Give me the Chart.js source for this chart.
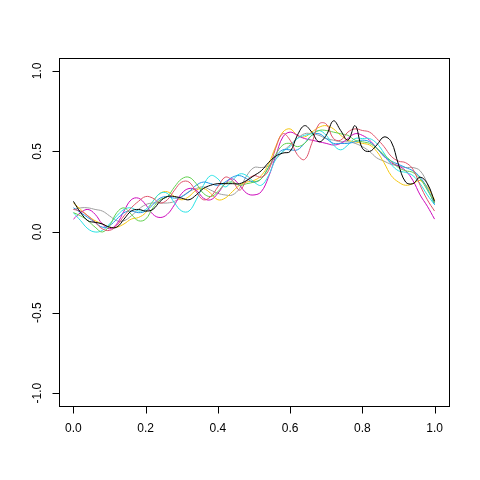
<!DOCTYPE html>
<html>
<head>
<meta charset="utf-8">
<script src="https://cdn.jsdelivr.net/npm/chart.js@4"></script>
<style>
  html, body { margin: 0; padding: 0; background: #fff; }
  canvas { display: block; }
</style>
</head>
<body>
<canvas id="myChart" width="480" height="480"></canvas>
<script>
// x grid: 0, 0.02, ... 1
const xs = [0.00,0.02,0.04,0.06,0.08,0.10,0.12,0.14,0.16,0.18,0.20,0.22,0.24,0.26,0.28,0.30,0.32,0.34,0.36,0.38,0.40,
            0.42,0.44,0.46,0.48,0.50,0.52,0.54,0.56,0.58,0.60,0.62,0.64,0.66,0.68,0.70,0.72,0.74,0.76,0.78,0.80,
            0.82,0.84,0.86,0.88,0.90,0.92,0.94,0.96,0.98,1.00];

const xTicks = [0, 0.2, 0.4, 0.6, 0.8, 1.0];
const xTickLabels = ['0.0', '0.2', '0.4', '0.6', '0.8', '1.0'];
const yTicks = [-1, -0.5, 0, 0.5, 1];
const yTickLabels = ['-1.0', '-0.5', '0.0', '0.5', '1.0'];

const curveBlack = [0.19,0.12,0.07,0.06,0.05,0.03,0.03,0.08,0.13,0.14,0.13,0.14,0.19,0.22,0.22,0.21,0.20,0.23,0.27,0.29,0.30,
                    0.30,0.30,0.30,0.32,0.35,0.38,0.43,0.47,0.49,0.50,0.60,0.66,0.62,0.56,0.60,0.69,0.63,0.57,0.66,0.52,
                    0.50,0.54,0.59,0.56,0.42,0.31,0.30,0.34,0.30,0.19];
const curvePink = [0.14,0.13,0.10,0.06,0.02,0.01,0.04,0.10,0.15,0.19,0.22,0.21,0.18,0.20,0.26,0.31,0.31,0.25,0.20,0.22,0.28,
                   0.34,0.32,0.26,0.32,0.35,0.34,0.38,0.52,0.61,0.57,0.48,0.45,0.55,0.67,0.67,0.58,0.57,0.62,0.64,0.63,
                   0.62,0.58,0.53,0.47,0.44,0.43,0.39,0.29,0.20,0.13];
const curveGreen = [0.12,0.10,0.07,0.03,0.00,0.04,0.12,0.15,0.11,0.07,0.08,0.15,0.20,0.22,0.28,0.33,0.34,0.30,0.24,0.22,0.25,
                    0.30,0.31,0.29,0.30,0.31,0.33,0.40,0.48,0.54,0.55,0.53,0.55,0.60,0.63,0.63,0.62,0.61,0.60,0.57,0.56,
                    0.55,0.52,0.48,0.44,0.40,0.38,0.37,0.33,0.26,0.18];
const curveBlue = [0.15,0.12,0.09,0.06,0.03,0.04,0.08,0.12,0.13,0.12,0.13,0.17,0.21,0.22,0.21,0.22,0.25,0.29,0.31,0.30,0.29,
                   0.31,0.34,0.35,0.33,0.31,0.33,0.40,0.47,0.51,0.51,0.51,0.55,0.60,0.61,0.58,0.55,0.55,0.55,0.56,0.57,
                   0.56,0.52,0.47,0.44,0.42,0.40,0.38,0.34,0.27,0.17];
const curveCyan = [0.12,0.07,0.02,0.00,0.01,0.05,0.10,0.14,0.15,0.13,0.14,0.19,0.24,0.24,0.18,0.13,0.13,0.20,0.29,0.35,0.33,
                   0.28,0.32,0.36,0.35,0.31,0.29,0.35,0.45,0.50,0.53,0.58,0.60,0.61,0.63,0.60,0.54,0.51,0.54,0.58,0.58,
                   0.58,0.55,0.49,0.42,0.38,0.37,0.35,0.30,0.23,0.17];
const curveMagenta = [0.08,0.12,0.14,0.11,0.05,0.02,0.05,0.13,0.20,0.21,0.17,0.11,0.09,0.11,0.17,0.24,0.27,0.26,0.21,0.20,0.24,
                      0.30,0.33,0.29,0.24,0.23,0.25,0.34,0.47,0.59,0.62,0.60,0.58,0.57,0.56,0.55,0.54,0.55,0.58,0.61,0.60,
                      0.57,0.52,0.47,0.43,0.41,0.38,0.32,0.23,0.16,0.08];
const curveYellow = [0.18,0.14,0.10,0.07,0.05,0.03,0.03,0.05,0.08,0.09,0.12,0.19,0.24,0.25,0.22,0.20,0.22,0.26,0.27,0.24,0.20,
                     0.21,0.25,0.29,0.31,0.32,0.35,0.42,0.53,0.62,0.64,0.60,0.59,0.62,0.65,0.66,0.64,0.60,0.57,0.56,0.55,
                     0.54,0.50,0.43,0.35,0.31,0.29,0.30,0.32,0.28,0.20];
const curveGray = [0.14,0.15,0.15,0.14,0.13,0.10,0.07,0.07,0.10,0.14,0.17,0.18,0.18,0.18,0.19,0.22,0.25,0.27,0.28,0.26,0.24,
                   0.23,0.23,0.27,0.35,0.40,0.40,0.41,0.45,0.50,0.54,0.58,0.61,0.61,0.60,0.58,0.57,0.56,0.56,0.55,0.53,
                   0.50,0.46,0.44,0.42,0.41,0.40,0.40,0.38,0.30,0.18];

const curves = [curveBlack, curvePink, curveGreen, curveBlue, curveCyan, curveMagenta, curveYellow, curveGray];
const colors = ['#000000', '#DF536B', '#61D04F', '#2297E6', '#28E2E5', '#CD0BBC', '#F5C710', '#9E9E9E'];

const datasets = curves.map((ys, i) => ({
  data: ys.map((y, j) => ({ x: xs[j], y: y })),
  borderColor: colors[i],
  borderWidth: 1,
  pointRadius: 0,
  fill: false,
  tension: 0.4
}));

// R style box, ticks and labels
const rAxes = {
  id: 'rAxes',
  afterDraw(chart) {
    const ctx = chart.ctx;
    const a = chart.chartArea;
    const sx = chart.scales.x;
    const sy = chart.scales.y;
    ctx.save();
    ctx.strokeStyle = '#000';
    ctx.lineWidth = 1;
    ctx.strokeRect(Math.round(a.left) + 0.5, Math.round(a.top) + 0.5,
                   Math.round(a.right - a.left), Math.round(a.bottom - a.top));
    ctx.fillStyle = '#000';
    ctx.font = '12px "Liberation Sans", Arial, sans-serif';

    // x axis
    ctx.beginPath();
    const x0 = Math.round(sx.getPixelForValue(xTicks[0])) + 0.5;
    const x1 = Math.round(sx.getPixelForValue(xTicks[xTicks.length - 1])) + 0.5;
    const by = Math.round(a.bottom) + 0.5;
    ctx.moveTo(x0, by);
    ctx.lineTo(x1, by);
    xTicks.forEach(v => {
      const px = Math.round(sx.getPixelForValue(v)) + 0.5;
      ctx.moveTo(px, by);
      ctx.lineTo(px, by + 7);
    });
    ctx.stroke();
    ctx.textAlign = 'center';
    ctx.textBaseline = 'middle';
    xTicks.forEach((v, i) => {
      ctx.fillText(xTickLabels[i], sx.getPixelForValue(v), by + 22);
    });

    // y axis
    ctx.beginPath();
    const lx = Math.round(a.left) + 0.5;
    yTicks.forEach(v => {
      const py = Math.round(sy.getPixelForValue(v)) + 0.5;
      ctx.moveTo(lx, py);
      ctx.lineTo(lx - 7, py);
    });
    ctx.stroke();
    yTicks.forEach((v, i) => {
      ctx.save();
      ctx.translate(lx - 22, sy.getPixelForValue(v));
      ctx.rotate(-Math.PI / 2);
      ctx.fillText(yTickLabels[i], 0, 0);
      ctx.restore();
    });
    ctx.restore();
  }
};

new Chart(document.getElementById('myChart'), {
  type: 'line',
  data: { datasets: datasets },
  options: {
    responsive: false,
    animation: false,
    layout: { padding: { left: 59, right: 31, top: 58, bottom: 74 } },
    plugins: { legend: { display: false }, tooltip: { enabled: false } },
    scales: {
      x: { type: 'linear', min: -0.04, max: 1.04, display: false },
      y: { type: 'linear', min: -1.08, max: 1.08, display: false }
    }
  },
  plugins: [rAxes]
});
</script>
</body>
</html>
